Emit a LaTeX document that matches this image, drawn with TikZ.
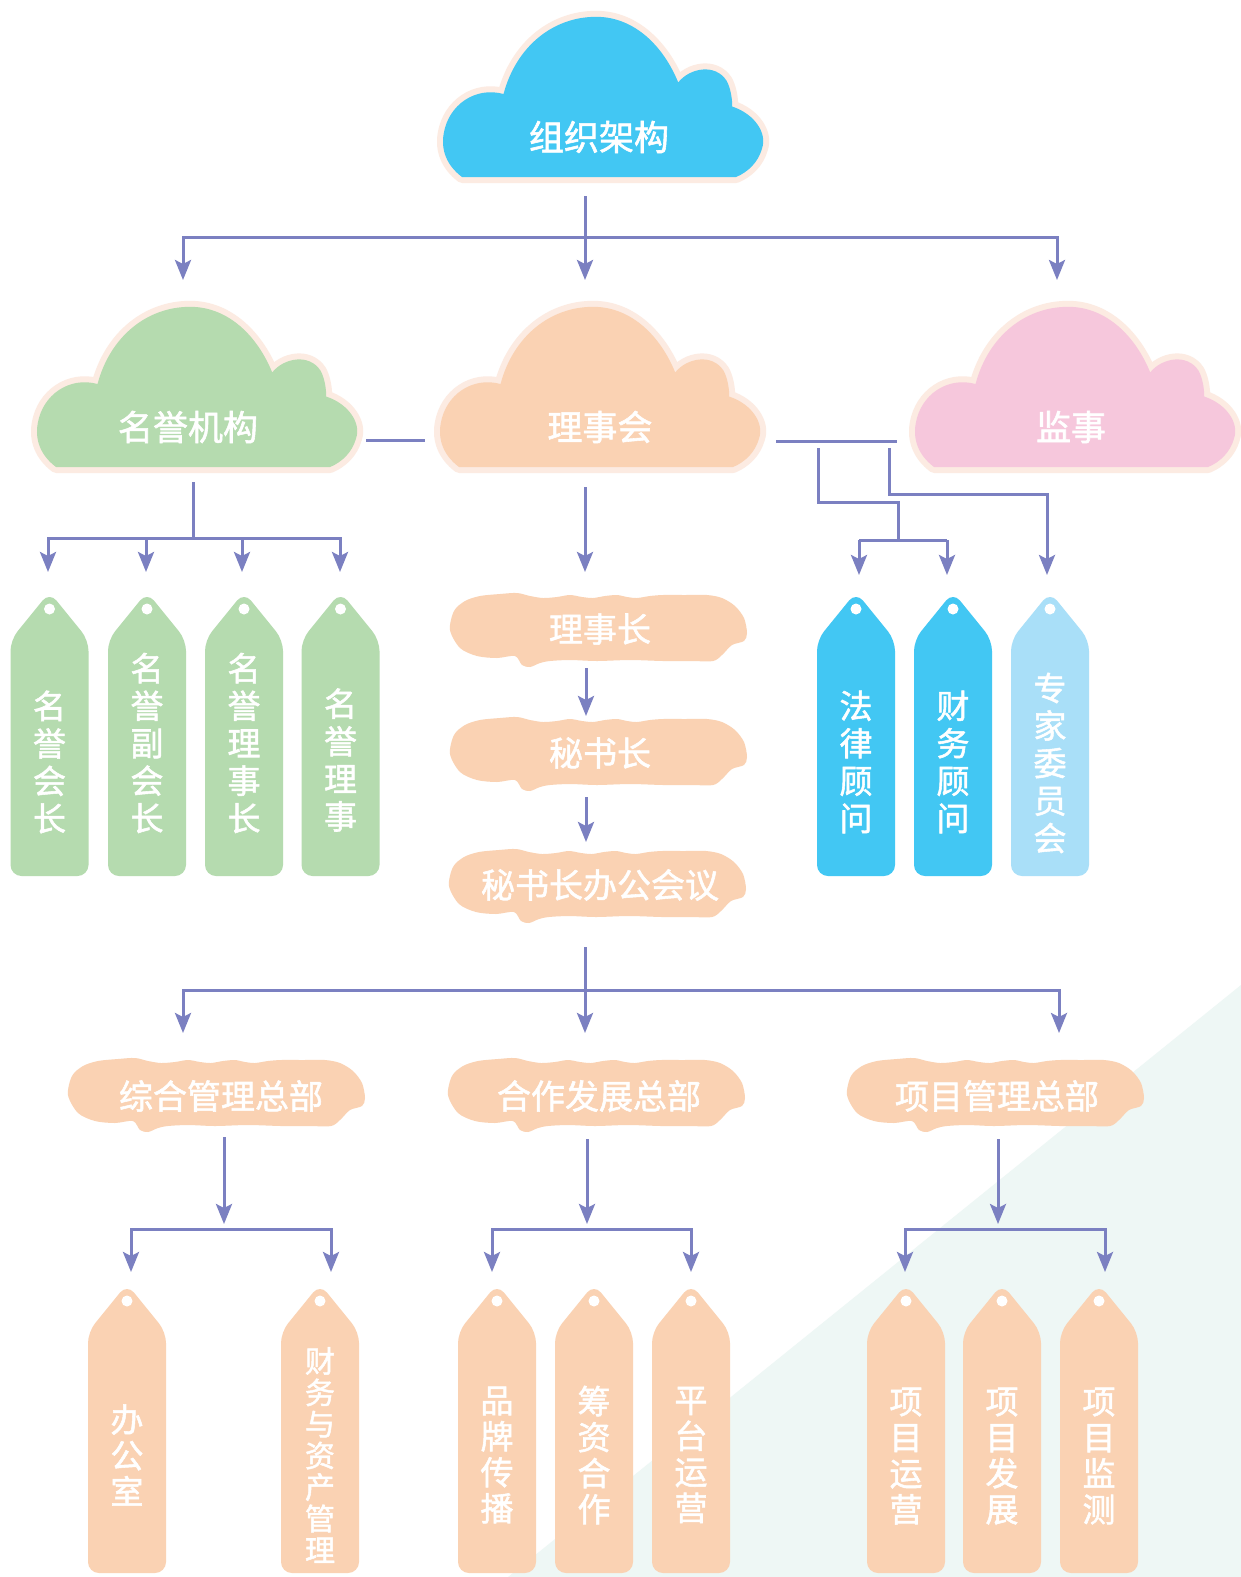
\documentclass[tikz,border=0pt]{standalone}
\usepackage{fontspec}
\setmainfont{Noto Sans CJK SC}[RawFeature={embolden=1.6}]
\usetikzlibrary{arrows.meta}
\definecolor{skyblue}{HTML}{42C7F3}
\definecolor{paleblue}{HTML}{A9DFF8}
\definecolor{leaf}{HTML}{B5DBAF}
\definecolor{peach}{HTML}{FAD2B3}
\definecolor{rose}{HTML}{F6C7DC}
\definecolor{cloudbd}{HTML}{FCEBE2}
\definecolor{linkc}{HTML}{7B80C1}
\definecolor{mint}{HTML}{EEF7F5}

\newcommand\drawcloud[3]{%
  \path[shift={(#1,#2)}, scale=0.965, fill=#3,
        preaction={draw=cloudbd, line width=12pt, line join=round}]
    (-144,0) .. controls (-160,-12) and (-166,-28) .. (-163,-45)
    .. controls (-158,-75) and (-130,-94) .. (-101,-86)
    .. controls (-88,-135) and (-50,-166) .. (-5,-166)
    .. controls (35,-166) and (65,-135) .. (80,-98)
    .. controls (92,-113) and (118,-118) .. (130,-100)
    .. controls (134,-93) and (136,-82) .. (136,-73)
    .. controls (160,-65) and (172,-45) .. (167,-30)
    .. controls (163,-15) and (152,-5) .. (140,0) -- cycle;}

\newcommand\drawblob[2]{%
  \fill[peach, shift={(#1,#2)}] plot[smooth cycle] coordinates {
    (0,37) (4,18) (15,8) (30,3) (50,1) (67,0) (80,3) (93,5) (107,4) (120,2)
    (132,4) (143,5) (155,3) (167,2) (177,4) (187,5) (200,3) (213,2) (235,2)
    (257,2) (272,5) (285,13) (294,25) (297,40) (294,48) (282,52) (272,62)
    (263,68) (240,68) (213,68) (180,67) (147,68) (120,67) (100,68) (90,70)
    (80,74) (72,72) (65,63) (47,65) (27,63) (10,55)};}

\newcommand\drawtag[4]{%
  \fill[#4, rounded corners=11pt, shift={(#1,#2)}]
    (0,#3) -- (-39,#3) -- (-39,44) -- (0,-4) -- (39,44) -- (39,#3) -- cycle;
  \fill[white, shift={(#1,#2)}] (0,13) circle (5.5pt);}

\tikzset{
  conn/.style={draw=linkc, line width=3pt},
  arr/.style={conn, -{Stealth[length=20pt,width=16pt,inset=4pt]}},
  lbl/.style={text=white, inner sep=0pt, align=center},
  cloudtext/.style={lbl, font=\fontsize{35pt}{40pt}\selectfont},
  blobtext/.style={lbl, font=\fontsize{34pt}{40pt}\selectfont},
  tagtext/.style={lbl, font=\fontsize{33pt}{37.5pt}\selectfont},
  tagtextb/.style={lbl, font=\fontsize{33pt}{36pt}\selectfont},
  tagtextc/.style={lbl, font=\fontsize{30pt}{31.5pt}\selectfont},
}

\begin{document}
\begin{tikzpicture}[x=1pt, y=-1pt]
\useasboundingbox (0,0) rectangle (1241,1577);
\fill[white] (0,0) rectangle (1241,1577);
\fill[mint] (1241,985) -- (1241,1577) -- (508,1577) -- cycle;

% clouds
\drawcloud{601}{177}{skyblue}
\drawcloud{195}{467}{leaf}
\drawcloud{598}{467}{peach}
\drawcloud{1073}{467}{rose}
\node[cloudtext] (top) at (599,137) {组织架构};
\node[cloudtext] (hon) at (188,427) {名誉机构};
\node[cloudtext] (board) at (600,427) {理事会};
\node[cloudtext] (sup) at (1071,427) {监事};

% blobs
\drawblob{450}{593}
\drawblob{450}{717}
\drawblob{449}{849}
\drawblob{68}{1058}
\drawblob{448}{1058}
\drawblob{847}{1058}
\node[blobtext] (chair) at (600,629) {理事长};
\node[blobtext] (sec) at (600,753) {秘书长};
\node[blobtext] (meet) at (600,885) {秘书长办公会议};
\node[blobtext] (dep1) at (221,1096) {综合管理总部};
\node[blobtext] (dep2) at (599,1096) {合作发展总部};
\node[blobtext] (dep3) at (997,1096) {项目管理总部};

% tags row 1
\drawtag{49.5}{596}{280}{leaf}
\drawtag{147}{596}{280}{leaf}
\drawtag{244}{596}{280}{leaf}
\drawtag{340.5}{596}{280}{leaf}
\drawtag{856}{596}{280}{skyblue}
\drawtag{953}{596}{280}{skyblue}
\drawtag{1050}{596}{280}{paleblue}
\node[tagtext] (h1) at (49.5,762) {名\\誉\\会\\长};
\node[tagtext] (h2) at (147,743) {名\\誉\\副\\会\\长};
\node[tagtext] (h3) at (244,743) {名\\誉\\理\\事\\长};
\node[tagtext] (h4) at (340.5,760) {名\\誉\\理\\事};
\node[tagtext] (s1) at (856,762) {法\\律\\顾\\问};
\node[tagtext] (s2) at (953,762) {财\\务\\顾\\问};
\node[tagtext] (s3) at (1050,763) {专\\家\\委\\员\\会};

% tags row 3
\drawtag{127}{1288}{285}{peach}
\drawtag{320}{1288}{285}{peach}
\drawtag{497}{1288}{285}{peach}
\drawtag{594}{1288}{285}{peach}
\drawtag{691}{1288}{285}{peach}
\drawtag{906}{1288}{285}{peach}
\drawtag{1002}{1288}{285}{peach}
\drawtag{1099}{1288}{285}{peach}
\node[tagtextb] (a1) at (127,1455) {办\\公\\室};
\node[tagtextc] (a2) at (320,1455) {财\\务\\与\\资\\产\\管\\理};
\node[tagtextb] (c1) at (497,1455) {品\\牌\\传\\播};
\node[tagtextb] (c2) at (594,1455) {筹\\资\\合\\作};
\node[tagtextb] (c3) at (691,1455) {平\\台\\运\\营};
\node[tagtextb] (p1) at (906,1456) {项\\目\\运\\营};
\node[tagtextb] (p2) at (1002,1456) {项\\目\\发\\展};
\node[tagtextb] (p3) at (1099,1456) {项\\目\\监\\测};

% connector coordinates
\coordinate (topout) at (585,196);
\coordinate (topbr) at (585,237);
\coordinate (topL) at (183,280);
\coordinate (topM) at (585,280);
\coordinate (topR) at (1057,280);

\coordinate (honR) at (366,440);
\coordinate (boardL) at (425,440);
\coordinate (boardR) at (776,441);
\coordinate (boardRe) at (897,441);
\coordinate (dropA) at (818,448);
\coordinate (elbA) at (898,502);
\coordinate (brA) at (898,540);
\coordinate (brAL) at (859,540);
\coordinate (brAR) at (947,540);
\coordinate (tipS1) at (859,575);
\coordinate (tipS2) at (947,575);
\coordinate (dropB) at (889,448);
\coordinate (elbB) at (1047,494);
\coordinate (tipS3) at (1047,575);

\coordinate (honout) at (193,482);
\coordinate (honbr) at (193,538);
\coordinate (tipH1) at (48,572);
\coordinate (tipH2) at (146,572);
\coordinate (tipH3) at (242,572);
\coordinate (tipH4) at (340,572);

\coordinate (boardout) at (585,487);
\coordinate (tipChair) at (585,572);
\coordinate (chairout) at (586,668);
\coordinate (tipSec) at (586,716);
\coordinate (secout) at (586,797);
\coordinate (tipMeet) at (586,842);
\coordinate (meetout) at (585,947);
\coordinate (meetbr) at (585,990);
\coordinate (tipD1) at (183,1033);
\coordinate (tipD2) at (585,1033);
\coordinate (tipD3) at (1059,1033);

\coordinate (d1out) at (224,1137);
\coordinate (d1tip) at (224,1224);
\coordinate (d1br) at (224,1229);
\coordinate (tipA1) at (131,1272);
\coordinate (tipA2) at (331,1272);
\coordinate (d2out) at (587,1139);
\coordinate (d2tip) at (587,1224);
\coordinate (d2br) at (587,1229);
\coordinate (tipC1) at (492,1272);
\coordinate (tipC3) at (691,1272);
\coordinate (d3out) at (998,1139);
\coordinate (d3tip) at (998,1224);
\coordinate (d3br) at (998,1229);
\coordinate (tipP1) at (905,1272);
\coordinate (tipP3) at (1105,1272);

% connectors
\draw[arr] (topout) -- (topM);
\draw[arr] (topbr) -| (topL);
\draw[arr] (topbr) -| (topR);

\draw[conn] (honR) -- (boardL);
\draw[conn] (boardR) -- (boardRe);
\draw[conn] (dropA) |- (elbA) -- (brA);
\draw[conn] (brAL) -- (brAR);
\draw[arr] (brAL) -- (tipS1);
\draw[arr] (brAR) -- (tipS2);
\draw[arr] (dropB) |- (elbB) -- (tipS3);

\draw[conn] (honout) -- (honbr);
\draw[arr] (honbr) -| (tipH1);
\draw[arr] (honbr) -| (tipH2);
\draw[arr] (honbr) -| (tipH3);
\draw[arr] (honbr) -| (tipH4);

\draw[arr] (boardout) -- (tipChair);
\draw[arr] (chairout) -- (tipSec);
\draw[arr] (secout) -- (tipMeet);
\draw[arr] (meetout) -- (tipD2);
\draw[arr] (meetbr) -| (tipD1);
\draw[arr] (meetbr) -| (tipD3);

\draw[arr] (d1out) -- (d1tip);
\draw[arr] (d1br) -| (tipA1);
\draw[arr] (d1br) -| (tipA2);
\draw[arr] (d2out) -- (d2tip);
\draw[arr] (d2br) -| (tipC1);
\draw[arr] (d2br) -| (tipC3);
\draw[arr] (d3out) -- (d3tip);
\draw[arr] (d3br) -| (tipP1);
\draw[arr] (d3br) -| (tipP3);
\end{tikzpicture}
\end{document}
